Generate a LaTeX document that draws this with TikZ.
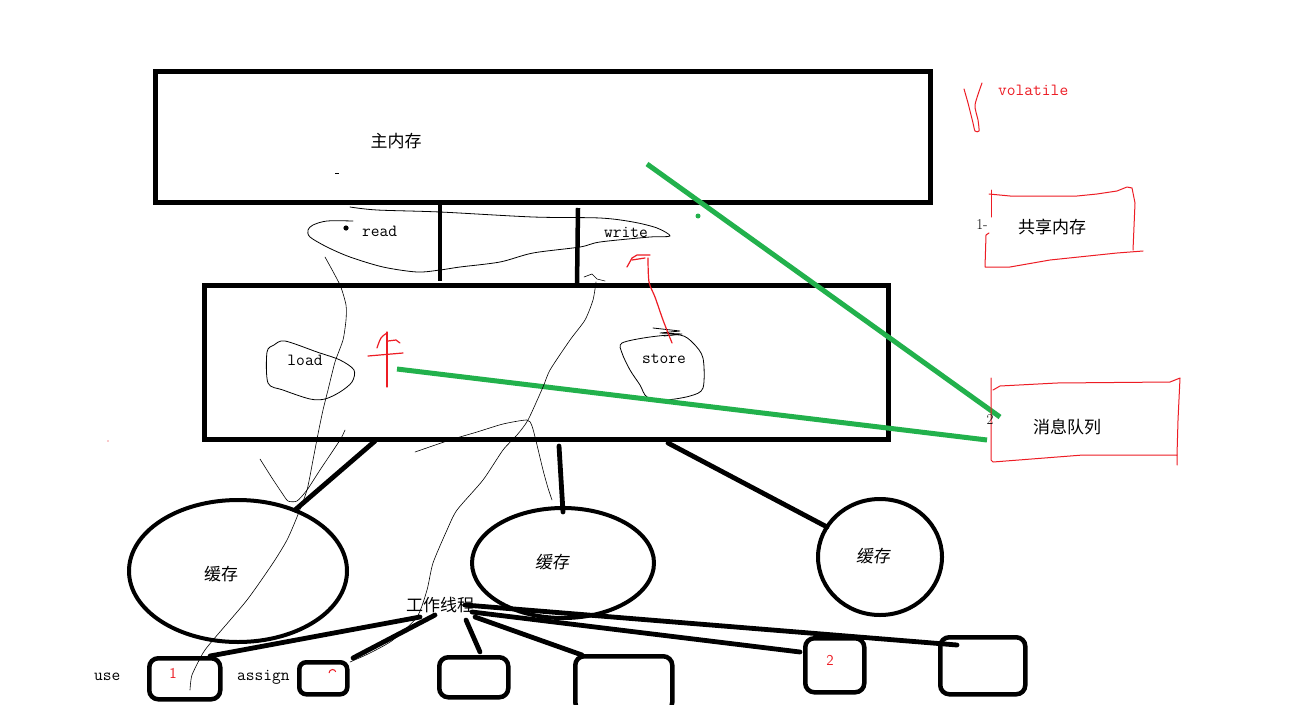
\documentclass[tikz,border=0pt]{standalone}
\usepackage{fontspec}
\newfontfamily\cjk{Noto Sans CJK SC}
\newfontfamily\cjksl[FakeSlant=0.15]{Noto Sans CJK SC}
\usetikzlibrary{shapes.geometric}
\definecolor{paintred}{RGB}{237,28,36}
\definecolor{paintgreen}{RGB}{34,177,76}
\begin{document}
\begin{tikzpicture}[x=1pt,y=-1pt,
  heavy/.style={line width=4.8pt, line cap=round},
  frame/.style={draw, line width=4.5pt, inner sep=0pt, anchor=north west},
  oval/.style={ellipse, draw, line width=4pt, inner sep=0pt},
  tbox/.style={draw, line width=4.5pt, rounded corners=9pt, inner sep=0pt, anchor=north west},
  pen/.style={line width=0.8pt, line join=round, line cap=round},
  redpen/.style={draw=paintred, line width=1.2pt, line join=round, line cap=round},
  greenpen/.style={draw=paintgreen, line width=5pt},
  zh/.style={font=\cjk\fontsize{17}{17}\selectfont, inner sep=0pt},
  zhsl/.style={font=\cjksl\fontsize{17}{17}\selectfont, inner sep=0pt},
  en/.style={font=\ttfamily\fontsize{17}{17}\selectfont, inner sep=0pt}
]
\useasboundingbox (0,0) rectangle (1316,704);
\fill[white] (0,0) rectangle (1316,704);

% main memory
\node[frame, minimum width=775pt, minimum height=131pt] (mainmem) at (153,69) {};
\node[zh] (mainlbl) at (396,141) {主内存};
\draw[line width=0.8pt] (335,173) -- (339,173);

% working memory
\node[frame, minimum width=684pt, minimum height=154pt] (workmem) at (202,283) {};

% read / write bars
\coordinate (ra) at (440,203); \coordinate (rb) at (440,281);
\coordinate (wa) at (578,208); \coordinate (wb) at (577,285);
\draw[line width=4.5pt] (ra) -- (rb);
\draw[line width=4.5pt] (wa) -- (wb);

% read/write blob
\draw[pen] plot[smooth, tension=0.5] coordinates {(350,207) (377,210) (440,212) (533,217) (600,218) (633,222) (657,228) (670,236) (650,237) (600,242) (580,247) (533,253) (500,262) (460,267) (440,270) (417,272) (383,267) (350,257) (327,247) (310,237) (308,230) (313,225) (327,221) (353,221)};
\fill (346,228) circle (2.6pt);
\node[en, anchor=west] (readlbl) at (362,231) {read};
\node[en, anchor=west] (writelbl) at (604,232) {write};

% load / store blobs
\draw[pen] plot[smooth cycle, tension=0.5] coordinates {(285,341) (317,352) (340,360) (354,370) (352,382) (340,392) (325,399) (310,399) (283,390) (268,383) (267,352) (274,345)};
\node[en] (loadlbl) at (305,360) {load};
\draw[pen] plot[smooth cycle, tension=0.5] coordinates {(622,343) (650,337) (680,335) (693,343) (703,358) (703,388) (690,396) (665,400) (647,397) (640,385) (630,370) (622,353)};
\node[en] (storelbl) at (664,359) {store};
\draw[pen] (653,328) -- (680,331) -- (660,333) -- (682,334) -- (664,336);

% red scribbles
\draw[redpen] (627,267) -- (632,258) -- (637,255) -- (650,255);
\draw[redpen] (632,260) -- (645,258);
\draw[redpen] plot[smooth, tension=0.5] coordinates {(648,258) (649,282) (655,297) (663,320) (672,343)};
\draw[redpen] (387,332) -- (387,387);
\draw[redpen] (368,356) -- (403,353);
\draw[redpen] plot[smooth, tension=0.6] coordinates {(377,348) (381,338) (387,333)};
\draw[redpen] (388,341) -- (396,340) -- (400,343);

% green lines
\coordinate (g1a) at (647,164); \coordinate (g1b) at (1000,417);
\coordinate (g2a) at (397,369); \coordinate (g2b) at (987,440);
\draw[greenpen] (g1a) -- (g1b);
\draw[greenpen] (g2a) -- (g2b);
\fill[paintgreen] (698,216) circle (2.5pt);

% volatile
\node[en, text=paintred, anchor=west] (vol) at (998,90) {volatile};
\draw[redpen, line width=1pt] plot[smooth, tension=0.4] coordinates {(964,89) (968,103) (973,123) (975,131) (979,131) (978,120) (975,105) (982,83)};

% shared memory box
\draw[redpen, line width=1pt] (991,190) -- (991,217);
\draw[redpen, line width=1pt] (989,194) -- (1010,196) -- (1077,196) -- (1097,194) -- (1117,191) -- (1127,187) -- (1132,188) -- (1135,203) -- (1133,250);
\draw[redpen, line width=1pt] (1143,251) -- (1117,253) -- (1050,260) -- (1010,267) -- (985,267) -- (986,235) -- (989,233);
\node[font=\fontsize{15}{15}\selectfont, inner sep=0pt] (one) at (982,225) {1-};
\node[zh] (shm) at (1052,227) {共享内存};

% message queue box
\draw[redpen, line width=1pt] (991,378) -- (991,460) -- (993,462) -- (1083,455) -- (1177,455) -- (1177,465);
\draw[redpen, line width=1pt] (993,390) -- (1000,386) -- (1057,383) -- (1170,382) -- (1180,378) -- (1178,420) -- (1177,455);
\node[font=\fontsize{15}{15}\selectfont, inner sep=0pt] (two) at (990,420) {2};
\node[zh] (mq) at (1067,427) {消息队列};

% caches
\node[oval, minimum width=218pt, minimum height=142pt] (c1) at (238,571) {};
\node[oval, minimum width=182pt, minimum height=110pt] (c2) at (563,563) {};
\node[oval, minimum width=124pt, minimum height=116pt] (c3) at (880,557) {};
\node[zh] (c1l) at (221,574) {缓存};
\node[zhsl] (c2l) at (552,562) {缓存};
\node[zhsl] (c3l) at (873,556) {缓存};
\coordinate (l1a) at (375,441); \coordinate (l1b) at (295,510);
\coordinate (l2a) at (559,446); \coordinate (l2b) at (563,512);
\coordinate (l3a) at (668,443); \coordinate (l3b) at (827,527);
\draw[heavy] (l1a) -- (l1b);
\draw[heavy] (l2a) -- (l2b);
\draw[heavy] (l3a) -- (l3b);

% work thread
\node[zh] (wt) at (440,605) {工作线程};

% bottom boxes
\node[tbox, minimum width=71pt, minimum height=41pt] (b1) at (147,656) {};
\node[tbox, minimum width=48pt, minimum height=32pt, rounded corners=7pt] (b2) at (297,660) {};
\node[tbox, minimum width=69pt, minimum height=40pt] (b3) at (437,655) {};
\node[tbox, minimum width=97pt, minimum height=55pt] (b4) at (573,654) {};
\node[tbox, minimum width=59pt, minimum height=54pt] (b5) at (803,636) {};
\node[tbox, minimum width=85pt, minimum height=57pt] (b6) at (938,635) {};
\node[font=\sffamily\fontsize{15}{15}\selectfont, text=paintred, inner sep=0pt] (n1) at (173,673) {1};
\node[font=\sffamily\fontsize{15}{15}\selectfont, text=paintred, inner sep=0pt] (n2) at (830,660) {2};
\draw[paintred, line width=1pt] (329,673) arc (180:340:3.5);
\node[en, anchor=west] (uselbl) at (94,677) {use};
\node[en, anchor=west] (assignlbl) at (237,677) {assign};

% thread connectors
\coordinate (t1) at (420,617); \coordinate (t2) at (435,615);
\coordinate (t3) at (466,620); \coordinate (t4) at (475,617);
\coordinate (t5) at (472,612); \coordinate (t6) at (465,605);
\coordinate (e1) at (210,656); \coordinate (e2) at (353,658);
\coordinate (e3) at (480,652); \coordinate (e4) at (582,655);
\coordinate (e5) at (800,652); \coordinate (e6) at (957,645);
\draw[heavy] (t1) -- (e1);
\draw[heavy] (t2) -- (e2);
\draw[heavy] (t3) -- (e3);
\draw[heavy] (t4) -- (e4);
\draw[heavy] (t5) -- (e5);
\draw[heavy] (t6) -- (e6);

% thin hand-drawn traces
\draw[pen, line width=0.6pt] plot[smooth, tension=0.4] coordinates {(325,257) (340,285) (346,305) (346,320) (343,340) (335,362) (328,390) (323,410) (318,434) (313,460) (307,490) (297,517) (287,540) (273,563) (247,600) (213,640) (203,653) (192,675) (190,690)};
\draw[pen, line width=0.6pt] plot[smooth, tension=0.4] coordinates {(260,459) (272,478) (282,493) (288,501) (297,501) (307,490) (320,470) (340,440) (345,430)};
\draw[pen, line width=0.6pt] (584,277) -- (592,274) -- (597,279) -- (605,281);
\draw[pen, line width=0.6pt] plot[smooth, tension=0.4] coordinates {(596,282) (593,300) (585,320) (570,340) (550,370) (543,387) (528,420) (517,435) (503,450) (483,480) (457,510) (447,530) (433,563) (427,590) (417,617) (393,640) (370,653) (350,662)};
\draw[pen, line width=0.6pt] plot[smooth, tension=0.4] coordinates {(415,452) (450,440) (477,432) (503,424) (527,420) (532,426) (537,445) (543,470) (548,488) (552,500)};
\fill[paintred] (108,441) circle (0.6pt);
\end{tikzpicture}
\end{document}
